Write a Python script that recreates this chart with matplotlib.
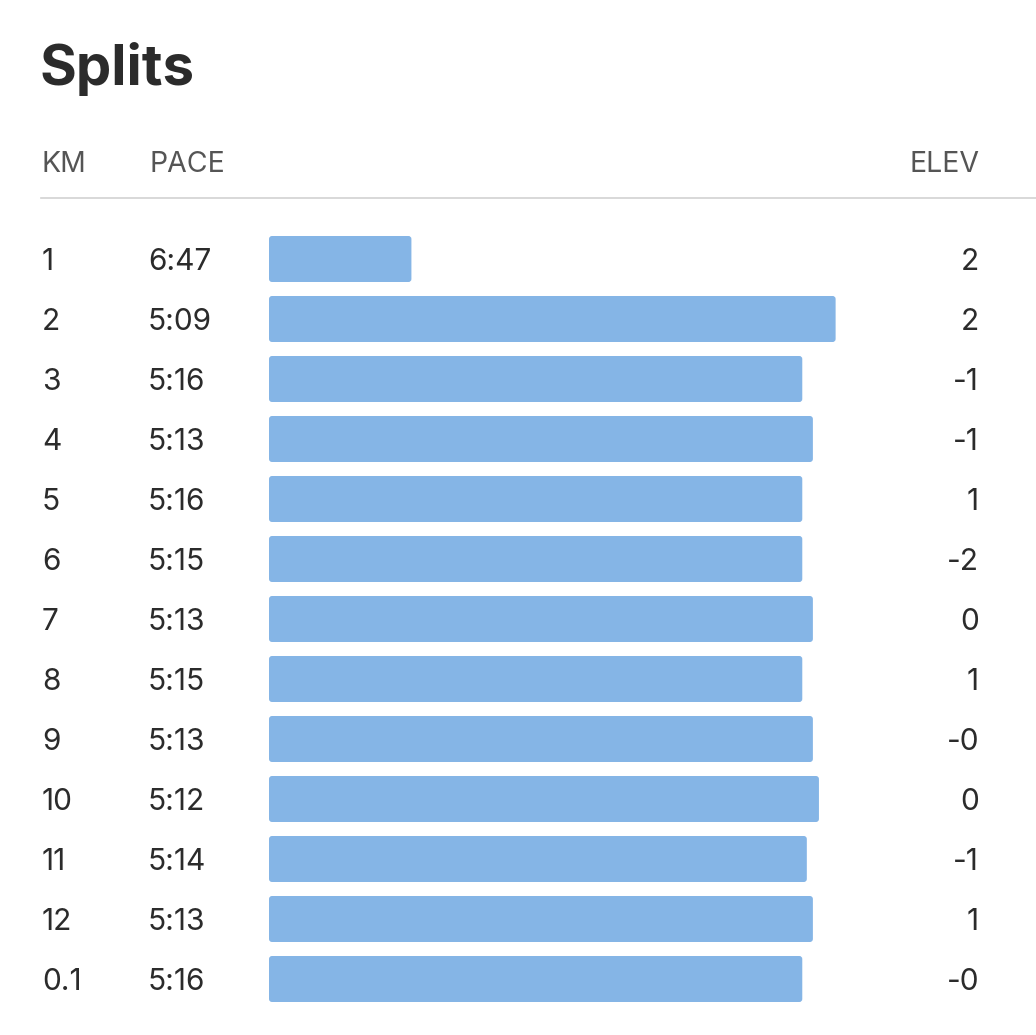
import matplotlib.pyplot as plt
import matplotlib.transforms as mtransforms
from matplotlib.patches import FancyBboxPatch

plt.rcParams["font.family"] = ["Inter", "DejaVu Sans"]

# split table
km_labels = ["1", "2", "3", "4", "5", "6", "7", "8", "9", "10", "11", "12", "0.1"]
pace_labels = ["6:47", "5:09", "5:16", "5:13", "5:16", "5:15", "5:13", "5:15", "5:13", "5:12", "5:14", "5:13", "5:16"]
elev_labels = ["2", "2", "-1", "-1", "1", "-2", "0", "1", "-0", "0", "-1", "1", "-0"]
# bar length = speed in km/h (estimated from bar ends)
speed_kmh = [8.85, 11.65, 11.43, 11.50, 11.43, 11.43, 11.50, 11.43, 11.50, 11.54, 11.46, 11.50, 11.43]
speed_floor = 7.91

W, H = 1036, 1035
BAR_COLOR = "#85b5e6"
TEXT = "#2b2b2b"
HEAD = "#555555"

fig = plt.figure(figsize=(W / 100, H / 100), dpi=100)
fig.patch.set_facecolor("white")

# bar axes: x 269..900 px, rows 60 px apart starting at 229 px
ax_l, ax_r = 269, 900
ax_t, ax_b = 229, 229 + 60 * len(km_labels)
ax = fig.add_axes([ax_l / W, 1 - ax_b / H, (ax_r - ax_l) / W, (ax_b - ax_t) / H])
px_per_kmh = 151.5
ax.set_xlim(speed_floor, speed_floor + (ax_r - ax_l) / px_per_kmh)
ax.set_ylim(len(km_labels) - 0.5, -0.5)
ax.axis("off")

bar_h = 46 / 60
r_x = 3 / px_per_kmh
aspect = (3 / 60) / r_x
for i, v in enumerate(speed_kmh):
    ax.add_patch(FancyBboxPatch((speed_floor, i - bar_h / 2), v - speed_floor, bar_h,
                                boxstyle=f"round,pad=0,rounding_size={r_x}",
                                mutation_aspect=aspect, facecolor=BAR_COLOR,
                                edgecolor="none", linewidth=0))

# text columns: x in figure, y in row units
row_tr = mtransforms.blended_transform_factory(fig.transFigure, ax.transData)
fs = 21.5
base_off = 10.8 / 60
for i in range(len(km_labels)):
    y = i + base_off
    fig.text(42 / W, y, km_labels[i], transform=row_tr, fontsize=fs, color=TEXT, ha="left", va="baseline")
    fig.text(148 / W, y, pace_labels[i], transform=row_tr, fontsize=fs, color=TEXT, ha="left", va="baseline")
    fig.text(979 / W, y, elev_labels[i], transform=row_tr, fontsize=fs, color=TEXT, ha="right", va="baseline")

# title and header
fig.text(40 / W, 1 - 85 / H, "Splits", fontsize=40.5, fontweight="bold", color=TEXT, ha="left", va="baseline")
hs = 20.5
fig.text(41 / W, 1 - 171.5 / H, "KM", fontsize=hs, color=HEAD, ha="left", va="baseline")
fig.text(149 / W, 1 - 171.5 / H, "PACE", fontsize=hs, color=HEAD, ha="left", va="baseline")
fig.text(979 / W, 1 - 171.5 / H, "ELEV", fontsize=hs, color=HEAD, ha="right", va="baseline")
fig.add_artist(plt.Line2D([41 / W, 1.0], [1 - 197.5 / H, 1 - 197.5 / H], transform=fig.transFigure,
                          color="#d2d2d2", linewidth=1.2))

fig.savefig("out.png", dpi=100, facecolor="white")
